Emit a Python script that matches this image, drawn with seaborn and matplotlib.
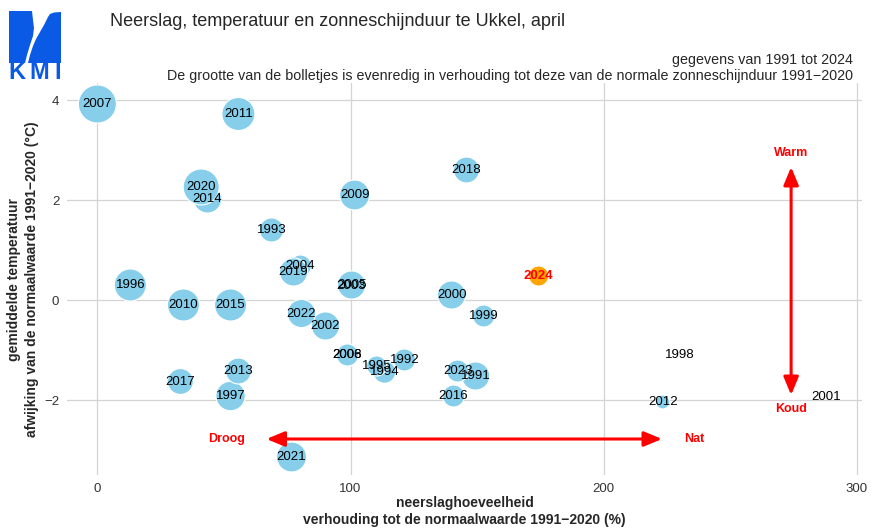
import numpy as np
import pandas as pd
import matplotlib
matplotlib.use('Agg')
import matplotlib.pyplot as plt
from matplotlib.patches import Polygon, Rectangle
from matplotlib.patches import ArrowStyle
import seaborn as sns

# april, Ukkel: neerslag (% van normaal), temperatuurafwijking (°C), zonneschijn (% van normaal)
jaren = [1991, 1992, 1993, 1994, 1995, 1996, 1997, 1998, 1999, 2000,
         2001, 2002, 2003, 2004, 2005, 2006, 2007, 2008, 2009, 2010,
         2011, 2012, 2013, 2014, 2015, 2016, 2017, 2018, 2019, 2020,
         2021, 2022, 2023, 2024]
neerslag = [149.4, 121.3, 68.8, 113.4, 110.3, 13.0, 52.6, 230.0, 152.6, 139.9,
            287.7, 90.1, 100.0, 80.2, 100.4, 98.8, 0.0, 98.8, 101.6, 34.0,
            55.7, 223.3, 55.7, 43.5, 52.6, 140.7, 32.8, 145.8, 77.5, 41.0,
            76.7, 80.6, 142.3, 174.3]
temperatuur = [-1.52, -1.20, 1.40, -1.44, -1.32, 0.30, -1.92, -1.10, -0.32, 0.10,
               -1.94, -0.52, 0.28, 0.68, 0.30, -1.10, 3.92, -1.10, 2.10, -0.10,
               3.72, -2.04, -1.42, 2.02, -0.10, -1.92, -1.63, 2.60, 0.56, 2.26,
               -3.14, -0.27, -1.42, 0.48]
zonneschijn = [111, 90.5, 97, 92, 85, 127, 116, 58.3, 90.5, 111,
               58, 111, 85, 90.5, 111, 93.5, 155, 90.5, 118, 127,
               131, 71, 103, 111, 127, 90.5, 103, 103, 111, 145,
               118, 111, 90.5, 85]

df = pd.DataFrame({'jaar': jaren, 'neerslag': neerslag,
                   'temperatuur': temperatuur, 'zon': zonneschijn})
df['groep'] = np.where(df['jaar'] == 2024, 'huidig', 'ander')

sns.set_style('white')
plt.rcParams['font.family'] = ['Liberation Sans', 'DejaVu Sans']

fig = plt.figure(figsize=(8.73, 5.30), dpi=100)
ax = fig.add_axes([67 / 873, 1 - 475 / 530, (862 - 67) / 873, (475 - 83) / 530])

sns.scatterplot(data=df, x='neerslag', y='temperatuur', size='zon',
                sizes=(0, 750), size_norm=(58, 155), hue='groep',
                palette={'ander': '#87ceeb', 'huidig': '#ffa500'},
                edgecolor='white', linewidth=0.8, legend=False, ax=ax, zorder=3)

for _, r in df.iterrows():
    huidig = r['jaar'] == 2024
    ax.text(r['neerslag'], r['temperatuur'], str(int(r['jaar'])), fontsize=9.5,
            color='red' if huidig else 'black',
            fontweight='bold' if huidig else 'normal',
            ha='center', va='center', zorder=5)

ax.set_xlim(-12, 302)
ax.set_ylim(-3.5, 4.34)
ax.set_xticks([0, 100, 200, 300])
ax.set_yticks([-2, 0, 2, 4])
ax.set_yticklabels(['\u22122', '0', '2', '4'])
ax.grid(True, color='#d4d4d4', linewidth=0.9)
ax.set_axisbelow(True)
for s in ax.spines.values():
    s.set_visible(False)
ax.tick_params(axis='both', length=3.5, width=0.8, color='#999999',
               labelsize=9.5, labelcolor='#333333', pad=2)

ax.set_xlabel('neerslaghoeveelheid\nverhouding tot de normaalwaarde 1991\u22122020 (%)',
              fontsize=10, fontweight='bold', labelpad=1, linespacing=1.3)
ax.set_ylabel('gemiddelde temperatuur\nafwijking van de normaalwaarde 1991\u22122020 (\u00b0C)',
              fontsize=10, fontweight='bold', labelpad=4, linespacing=1.3)

# pijlen droog/nat en warm/koud
stijl = ArrowStyle('<|-|>', head_length=0.6, head_width=0.25)
ax.annotate('', xy=(66.8, -2.78), xytext=(223, -2.78),
            arrowprops=dict(arrowstyle=stijl, color='red', lw=2.2,
                            mutation_scale=18, shrinkA=0, shrinkB=0), zorder=4)
ax.annotate('', xy=(274, 2.66), xytext=(274, -1.9),
            arrowprops=dict(arrowstyle=stijl, color='red', lw=2.2,
                            mutation_scale=18, shrinkA=0, shrinkB=0), zorder=4)
ax.text(51, -2.78, 'Droog', color='red', fontsize=9, fontweight='bold', ha='center', va='center')
ax.text(235.6, -2.78, 'Nat', color='red', fontsize=9, fontweight='bold', ha='center', va='center')
ax.text(274, 2.94, 'Warm', color='red', fontsize=9, fontweight='bold', ha='center', va='center')
ax.text(274, -2.18, 'Koud', color='red', fontsize=9, fontweight='bold', ha='center', va='center')

# titels
fig.text(110 / 873, 1 - 22 / 530, 'Neerslag, temperatuur en zonneschijnduur te Ukkel, april',
         fontsize=13, ha='left', va='center')
fig.text(853 / 873, 1 - 60 / 530, 'gegevens van 1991 tot 2024',
         fontsize=10.3, ha='right', va='center')
fig.text(853 / 873, 1 - 76 / 530,
         'De grootte van de bolletjes is evenredig in verhouding tot deze van de normale zonneschijnduur 1991\u22122020',
         fontsize=10.3, ha='right', va='center')

# KMI logo (benadering)
lg = fig.add_axes([0, 0, 1, 1], zorder=-1)
lg.set_xlim(0, 873)
lg.set_ylim(530, 0)
lg.axis('off')
blauw = '#0a5ae6'
lg.add_patch(Rectangle((9, 11), 52, 52, color=blauw, lw=0))
lg.add_patch(Polygon([(32, 11), (33, 20), (34, 28), (33, 36), (30, 45), (27, 55),
                      (25, 63), (28, 63), (30, 55), (33, 46), (36, 39), (40, 32),
                      (44, 25), (48, 17), (50, 14), (54, 12.5), (61, 12), (61, 11)],
                     color='white', lw=0))
for letter, lx in zip(['K', 'M', 'I'], [17, 39, 58]):
    lg.text(lx, 72.5, letter, color=blauw, fontsize=17, fontweight='bold',
            ha='center', va='center')

fig.savefig('out.png', dpi=100)
